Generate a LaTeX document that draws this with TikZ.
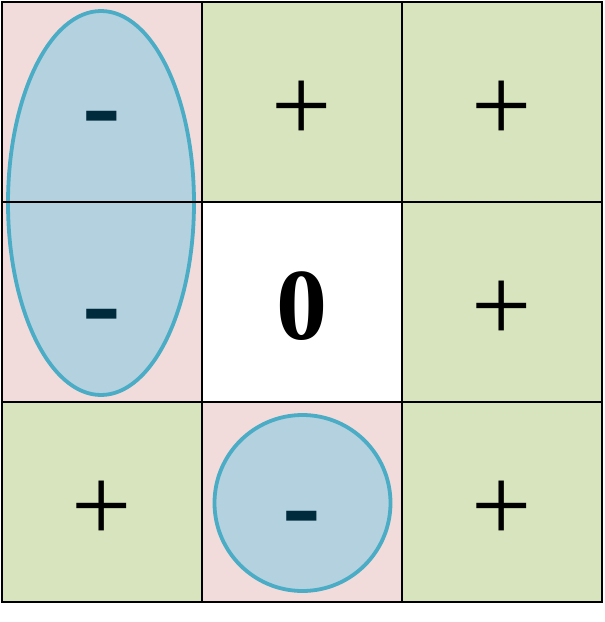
\documentclass[tikz,border=0pt]{standalone}
\usepackage{fontspec}
\setmainfont{Liberation Serif}
\definecolor{pinkc}{HTML}{F2DCDB}
\definecolor{greenc}{HTML}{D7E4BD}
\definecolor{bluef}{HTML}{B4D1DF}
\definecolor{blues}{HTML}{4BACC6}
\definecolor{minusc}{HTML}{002B3C}
\begin{document}
\begin{tikzpicture}[x=1pt,y=-1pt,
  cell/.style={minimum size=200pt, inner sep=0pt, outer sep=0pt},
  pinkcell/.style={cell, fill=pinkc},
  greencell/.style={cell, fill=greenc},
  whitecell/.style={cell, fill=white},
  gridline/.style={draw=black, line width=2pt},
  blob/.style={fill=bluef, draw=blues, line width=3.8pt},
  plussign/.style={inner sep=0pt, font=\fontsize{107}{107}\selectfont},
  minussign/.style={inner sep=0pt, text=minusc, font=\bfseries\fontsize{116}{116}\selectfont},
  zerosign/.style={inner sep=0pt, font=\bfseries\fontsize{102}{102}\selectfont}]
\useasboundingbox (0,0) rectangle (605,622);
\fill[white] (0,0) rectangle (605,622);
% cells
\node[pinkcell]  (c11) at (102,102) {};
\node[greencell] (c12) at (302,102) {};
\node[greencell] (c13) at (502,102) {};
\node[pinkcell]  (c21) at (102,302) {};
\node[whitecell] (c22) at (302,302) {};
\node[greencell] (c23) at (502,302) {};
\node[greencell] (c31) at (102,502) {};
\node[pinkcell]  (c32) at (302,502) {};
\node[greencell] (c33) at (502,502) {};
% blobs
\draw[blob] (101,203) ellipse [x radius=93, y radius=192];
\draw[blob] (302.5,503) circle [radius=88];
% grid
\draw[gridline] (2,2) rectangle (602,602);
\draw[gridline] (202,2) -- (202,602);
\draw[gridline] (402,2) -- (402,602);
\draw[gridline] (2,202) -- (602,202);
\draw[gridline] (2,402) -- (602,402);
% signs
\node[minussign] (m1) at (102,127) {-};
\node[minussign] (m2) at (102,325) {-};
\node[minussign] (m3) at (302,527) {-};
\node[plussign] (p12) at (302,111) {+};
\node[plussign] (p13) at (502,111) {+};
\node[plussign] (p23) at (502,311) {+};
\node[plussign] (p31) at (102,511) {+};
\node[plussign] (p33) at (502,511) {+};
\node[zerosign] (z) at (301.5,306) {0};
\end{tikzpicture}
\end{document}
